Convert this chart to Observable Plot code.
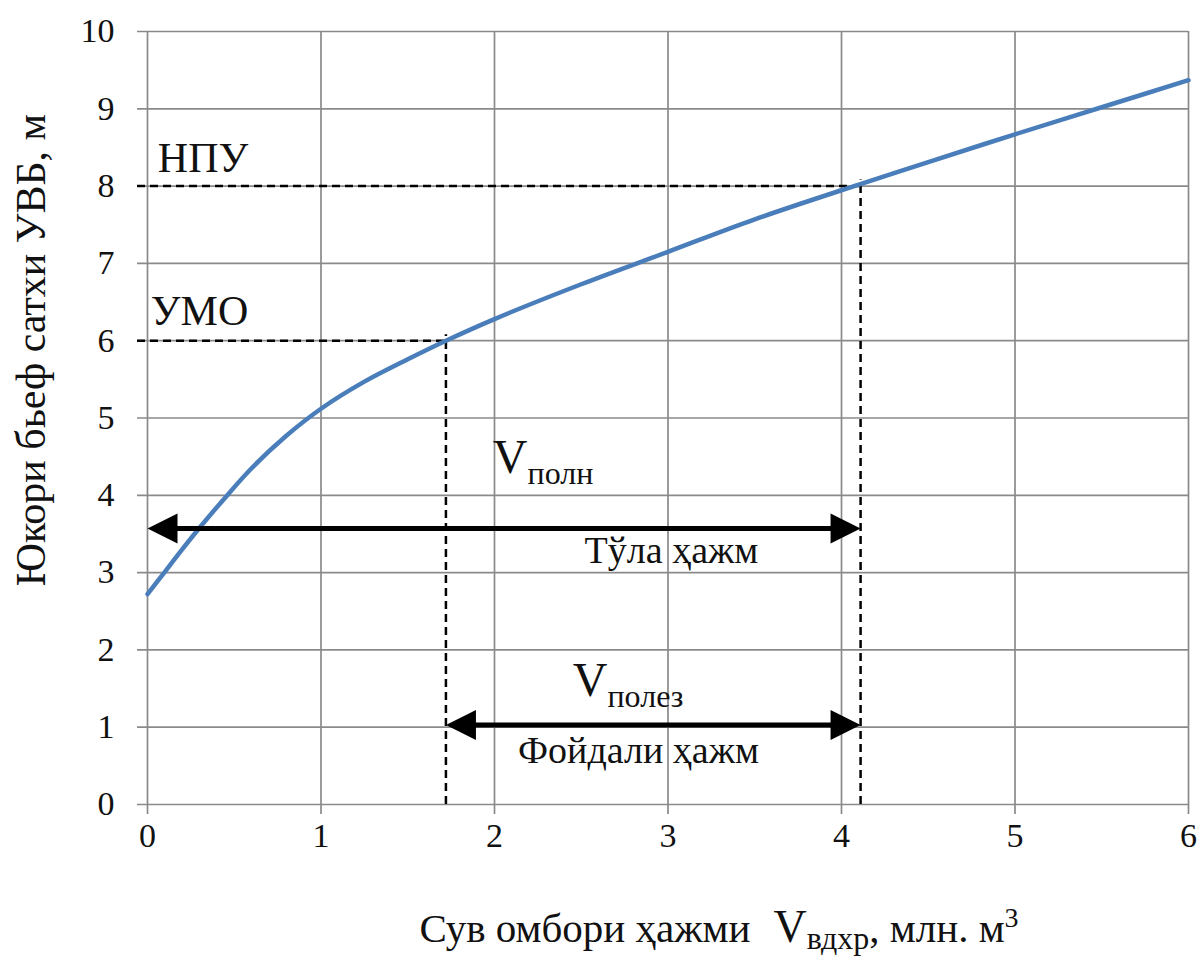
<!DOCTYPE html>
<html>
<head>
<meta charset="utf-8">
<script src="https://cdn.jsdelivr.net/npm/d3@7"></script>
<script src="https://cdn.jsdelivr.net/npm/@observablehq/plot@0.6"></script>
<style>
  body { margin: 0; background: #fff; }
  #chart svg { display: block; }
  #chart svg text { font-family: "Liberation Serif", "Times New Roman", serif; }
</style>
</head>
<body>
<div id="chart"></div>
<script>
// ---- data ----
const volume = [0, 0.1, 0.2, 0.3, 0.44, 0.6, 0.8, 1.0, 1.25, 1.5, 1.72, 2.0, 2.5, 3.0, 3.5, 4.1, 4.5, 5.0, 5.5, 6.0];
const level  = [2.72, 3.01, 3.30, 3.58, 3.95, 4.35, 4.77, 5.12, 5.47, 5.76, 6.0, 6.28, 6.73, 7.15, 7.57, 8.02, 8.31, 8.67, 9.02, 9.37];

const xTicks = [0, 1, 2, 3, 4, 5, 6];
const yTicks = [0, 1, 2, 3, 4, 5, 6, 7, 8, 9, 10];

// characteristic levels
const levelNames   = ["НПУ", "УМО"];
const levelValues  = [8, 6];
const levelVolumes = [4.11, 1.72];
const levelLabelX  = [0.32, 0.30];
const levelLabelY  = [8.18, 6.20];

// volume arrows
const arrowNames  = ["Тўла ҳажм", "Фойдали ҳажм"];
const arrowLevel  = [3.57, 1.03];
const arrowFrom   = [0, 1.72];
const arrowTo     = [4.11, 4.11];
const arrowNameX  = [3.02, 2.83];
const arrowNameY  = [3.12, 0.54];
const symbolMain  = ["V", "V"];
const symbolSub   = ["полн", "полез"];
const symbolX     = [2.28, 2.77];
const symbolY     = [4.29, 1.41];

const xTitle = ["Сув омбори ҳажми", "V", "вдхр", ", млн. м", "3"];
const yTitle = "Юкори бьеф сатхи УВБ, м";

// ---- derived tables ----
const curve = volume.map((v, i) => ({v, h: level[i]}));
const levels = levelNames.map((name, i) => ({name, h: levelValues[i], v: levelVolumes[i], lx: levelLabelX[i], ly: levelLabelY[i]}));
const arrows = arrowNames.map((name, i) => ({name, h: arrowLevel[i], from: arrowFrom[i], to: arrowTo[i], nx: arrowNameX[i], ny: arrowNameY[i], sym: symbolMain[i], sub: symbolSub[i], sx: symbolX[i], sy: symbolY[i]}));
const heads = arrows.flatMap(a => [{v: a.from, h: a.h, dir: -1}, {v: a.to, h: a.h, dir: 1}]);

const arrowHead = {
  draw(ctx) {
    const L = 30, W = 30;
    ctx.moveTo(0, 0);
    ctx.lineTo(-L, -W / 2);
    ctx.lineTo(-L, W / 2);
    ctx.closePath();
  }
};

const FONT = "Liberation Serif";
const gridColor = "#8a8a8a";

const chart = Plot.plot({
  width: 1201,
  height: 957,
  marginLeft: 147,
  marginRight: 13,
  marginTop: 31,
  marginBottom: 153,
  style: {fontFamily: FONT, fontSize: "34px", color: "#111", background: "#fff"},
  x: {domain: [0, 6], ticks: xTicks, tickFormat: d => String(d), tickSize: 0, tickPadding: 18, label: null},
  y: {domain: [0, 10], ticks: yTicks, tickFormat: d => String(d), tickSize: 0, tickPadding: 33, label: null},
  marks: [
    // grid (with small outward ticks)
    Plot.ruleY(yTicks, {stroke: gridColor, strokeWidth: 1.7, insetLeft: -10}),
    Plot.ruleX(xTicks, {stroke: gridColor, strokeWidth: 1.7, insetBottom: -10}),
    // dashed level lines
    Plot.ruleY(levels, {y: "h", x1: 0, x2: "v", insetLeft: -10, stroke: "#000", strokeWidth: 2.5, strokeDasharray: "8,5"}),
    Plot.ruleX(levels, {x: "v", y1: 0, y2: "h", insetBottom: 6, stroke: "#000", strokeWidth: 2.5, strokeDasharray: "8,5"}),
    // curve
    Plot.line(curve, {x: "v", y: "h", curve: "catmull-rom", stroke: "#4a7ebb", strokeWidth: 4.5}),
    // arrows
    Plot.ruleY(arrows, {y: "h", x1: "from", x2: "to", insetLeft: 15, insetRight: 15, stroke: "#000", strokeWidth: 5}),
    Plot.dot(heads, {x: "v", y: "h", symbol: arrowHead, r: 10, fill: "#000", stroke: "none", rotate: d => d.dir < 0 ? 180 : 0}),
    // labels
    Plot.text(levels, {x: "lx", y: "ly", text: "name", fontFamily: FONT, fontSize: 42, lineAnchor: "bottom", textAnchor: "middle", fill: "#111"}),
    Plot.text(arrows, {x: "nx", y: "ny", text: "name", fontFamily: FONT, fontSize: 38, lineAnchor: "bottom", textAnchor: "middle", fill: "#111"}),
    Plot.text(arrows, {x: "sx", y: "sy", text: "sym", fontFamily: FONT, fontSize: 48, lineAnchor: "bottom", textAnchor: "middle", fill: "#111"}),
    // axis titles
    Plot.text([xTitle[0]], {frameAnchor: "bottom", dx: 51, dy: 137, fontFamily: FONT, fontSize: 41, lineAnchor: "bottom", textAnchor: "middle", fill: "#111"}),
    Plot.text([yTitle], {frameAnchor: "left", dx: -116, dy: -68, rotate: -90, fontFamily: FONT, fontSize: 42, lineAnchor: "middle", textAnchor: "middle", fill: "#111"})
  ]
});

// rich text: subscripts / superscripts
function tspan(t, str, size, dy) {
  const s = document.createElementNS("http://www.w3.org/2000/svg", "tspan");
  s.textContent = str;
  s.setAttribute("font-size", size);
  if (dy) s.setAttribute("dy", dy);
  t.appendChild(s);
}
let vi = 0;
for (const t of chart.querySelectorAll("text")) {
  const s = t.textContent;
  if (s === "V" && vi < symbolSub.length) {
    tspan(t, symbolSub[vi++], 32, 11);
  } else if (s === xTitle[0]) {
    t.setAttribute("style", "white-space: pre");
    tspan(t, "\u00A0\u00A0" + xTitle[1], 46, 0);
    tspan(t, xTitle[2], 32, 7);
    tspan(t, xTitle[3], 41, -7);
    tspan(t, xTitle[4], 28, -15);
  }
}

document.getElementById("chart").appendChild(chart);
</script>
</body>
</html>
